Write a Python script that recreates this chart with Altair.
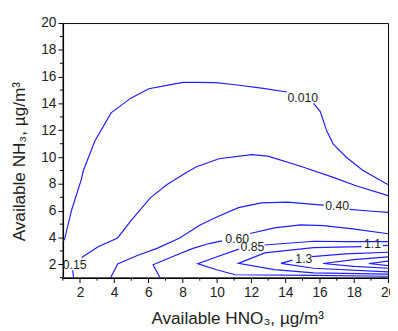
import altair as alt
import pandas as pd

# ---- contour polylines (data units) ----
# level 0.010 (two pieces, broken by its label)
C0010_A_X = [1.0, 1.1, 1.5, 2.07, 2.2, 2.87, 3.82, 4.97, 6.02, 7.07, 8.02, 8.78, 9.93, 11.07, 12.6, 14.1]
C0010_A_Y = [3.75, 3.85, 6.0, 8.3, 9.0, 11.2, 13.3, 14.4, 15.1, 15.35, 15.57, 15.58, 15.56, 15.4, 15.15, 14.86]
C0010_B_X = [15.65, 16.04, 16.42, 16.8, 17.56, 18.52, 19.85, 20.0]
C0010_B_Y = [14.0, 13.4, 11.94, 10.97, 9.99, 9.02, 8.05, 7.95]

# level 0.15
C015_A_X = [1.63, 1.57]
C015_A_Y = [1.0, 1.55]
C015_B_X = [2.1, 3.06, 4.2, 4.97, 6.11, 7.07, 8.12, 8.78, 10.12, 12.03, 12.98, 14.89, 16.8, 18.13, 20.0]
C015_B_Y = [2.51, 3.31, 3.97, 5.25, 6.96, 7.93, 8.78, 9.26, 9.88, 10.19, 10.07, 9.32, 8.49, 7.86, 7.13]

# level 0.40
C040_A_X = [3.79, 4.2, 5.35, 6.5, 7.83, 8.97, 9.93, 11.26, 12.6, 14.12, 15.65, 16.25]
C040_A_Y = [1.0, 2.02, 2.66, 3.19, 3.97, 4.89, 5.5, 6.23, 6.59, 6.64, 6.47, 6.42]
C040_B_X = [17.75, 18.9, 20.0]
C040_B_Y = [6.1, 5.98, 5.87]

# level 0.60
C060_A_X = [6.68, 6.27, 7.64, 8.6, 9.55, 10.3]
C060_A_Y = [1.0, 1.97, 2.70, 3.19, 3.55, 3.75]
C060_B_X = [11.95, 13.36, 14.89, 16.23, 17.94, 20.0]
C060_B_Y = [4.3, 4.72, 4.94, 4.89, 4.65, 4.28]

# level 0.85
C085_A_X = [20.0, 15.65, 11.07, 9.93, 8.88, 9.93, 11.07, 11.3]
C085_A_Y = [1.11, 1.18, 1.22, 1.61, 2.05, 2.53, 3.04, 3.14]
C085_B_X = [12.79, 15.65, 17.54, 20.0]
C085_B_Y = [3.44, 3.72, 3.70, 3.70]

# level 1.1
C11_A_X = [20.0, 15.65, 13.36, 11.26, 12.79, 15.65, 18.46]
C11_A_Y = [1.27, 1.36, 1.6, 2.07, 2.85, 3.24, 3.32]
C11_B_X = [19.7, 20.0]
C11_B_Y = [3.40, 3.41]

# level 1.3
C13_A_X = [20.0, 15.65, 13.75, 14.41]
C13_A_Y = [1.44, 1.71, 2.07, 2.31]
C13_B_X = [15.56, 17.5, 20.0]
C13_B_Y = [2.58, 2.78, 2.9]

# level 1.5
C15_X = [20.0, 18.0, 16.21, 18.0, 20.0]
C15_Y = [1.71, 1.85, 2.06, 2.35, 2.55]

# level 1.7
C17_X = [20.0, 18.88, 20.0]
C17_Y = [1.9, 2.06, 2.24]

# ---- contour labels ----
LABEL_TEXT = ["0.010", "0.15", "0.40", "0.60", "0.85", "1.1", "1.3"]
LABEL_X = [15.02, 1.69, 17.03, 11.19, 12.08, 19.09, 15.08]
LABEL_Y = [14.42, 1.97, 6.35, 3.92, 3.26, 3.52, 2.42]

# ---- axis ticks ----
MAJOR_TICKS = [2, 4, 6, 8, 10, 12, 14, 16, 18, 20]
MINOR_TICKS = [1, 3, 5, 7, 9, 11, 13, 15, 17, 19]

segments = [
    ("0010a", C0010_A_X, C0010_A_Y), ("0010b", C0010_B_X, C0010_B_Y),
    ("015a", C015_A_X, C015_A_Y), ("015b", C015_B_X, C015_B_Y),
    ("040a", C040_A_X, C040_A_Y), ("040b", C040_B_X, C040_B_Y),
    ("060a", C060_A_X, C060_A_Y), ("060b", C060_B_X, C060_B_Y),
    ("085a", C085_A_X, C085_A_Y), ("085b", C085_B_X, C085_B_Y),
    ("11a", C11_A_X, C11_A_Y), ("11b", C11_B_X, C11_B_Y),
    ("13a", C13_A_X, C13_A_Y), ("13b", C13_B_X, C13_B_Y),
    ("15", C15_X, C15_Y), ("17", C17_X, C17_Y),
]
rows = []
for name, xs_, ys_ in segments:
    for i, (a, b) in enumerate(zip(xs_, ys_)):
        rows.append({"seg": name, "i": i, "x": a, "y": b})
lines_df = pd.DataFrame(rows)
labels_df = pd.DataFrame({"t": LABEL_TEXT, "x": LABEL_X, "y": LABEL_Y})
minor_df = pd.DataFrame({"x": MINOR_TICKS, "y": MINOR_TICKS})

FONT = "Liberation Sans"
W, H = 332, 260

x_axis = alt.Axis(
    values=MAJOR_TICKS, tickSize=5,
    grid=False, domainColor="black", domainWidth=1.5, tickColor="black", tickWidth=1,
    labelFont=FONT, labelFontSize=14, labelColor="#222", labelPadding=3,
    labelOverlap=False, labelFlush=False, format="d",
    title="Available HNO₃, µg/m³", titleFont=FONT, titleFontSize=17.5, titleFontWeight="normal",
    titleColor="#222", titleY=47, titleX=178, titleBaseline="alphabetic",
)
y_axis = alt.Axis(
    values=MAJOR_TICKS, tickSize=5,
    grid=False, domainColor="black", domainWidth=1.5, tickColor="black", tickWidth=1,
    labelFont=FONT, labelFontSize=14, labelColor="#222", labelPadding=2,
    labelOverlap=False, labelFlush=False, format="d",
    title="Available NH₃, µg/m³", titleFont=FONT, titleFontSize=17.5, titleFontWeight="normal",
    titleColor="#222", titleX=-39, titleY=141, titleBaseline="alphabetic",
)

xs = alt.Scale(domain=[1, 20], nice=False, zero=False)
ys = alt.Scale(domain=[1, 20], nice=False, zero=False)

X = alt.X("x:Q", scale=xs, axis=x_axis)
Y = alt.Y("y:Q", scale=ys, axis=y_axis)

lines = alt.Chart(lines_df).mark_line(color="#1f1fff", strokeWidth=1.2, clip=True).encode(
    x=X, y=Y, detail="seg:N", order="i:Q",
)
texts = alt.Chart(labels_df).mark_text(font=FONT, fontSize=12.5, color="#222").encode(
    x=X, y=Y, text="t:N",
)
minor_x = alt.Chart(minor_df).mark_rule(color="black", strokeWidth=1).encode(
    x=X, y=alt.value(H), y2=alt.value(H + 3),
)
minor_y = alt.Chart(minor_df).mark_rule(color="black", strokeWidth=1).encode(
    y=Y, x=alt.value(0), x2=alt.value(-3),
)

chart = (lines + texts + minor_x + minor_y).properties(
    width=W, height=H,
    autosize=alt.AutoSizeParams(type="none"),
    padding={"left": 56, "top": 12, "right": 2, "bottom": 51},
).configure_view(stroke="black", strokeWidth=1)

chart.save("out.html", embed_options={"renderer": "svg", "actions": False})
